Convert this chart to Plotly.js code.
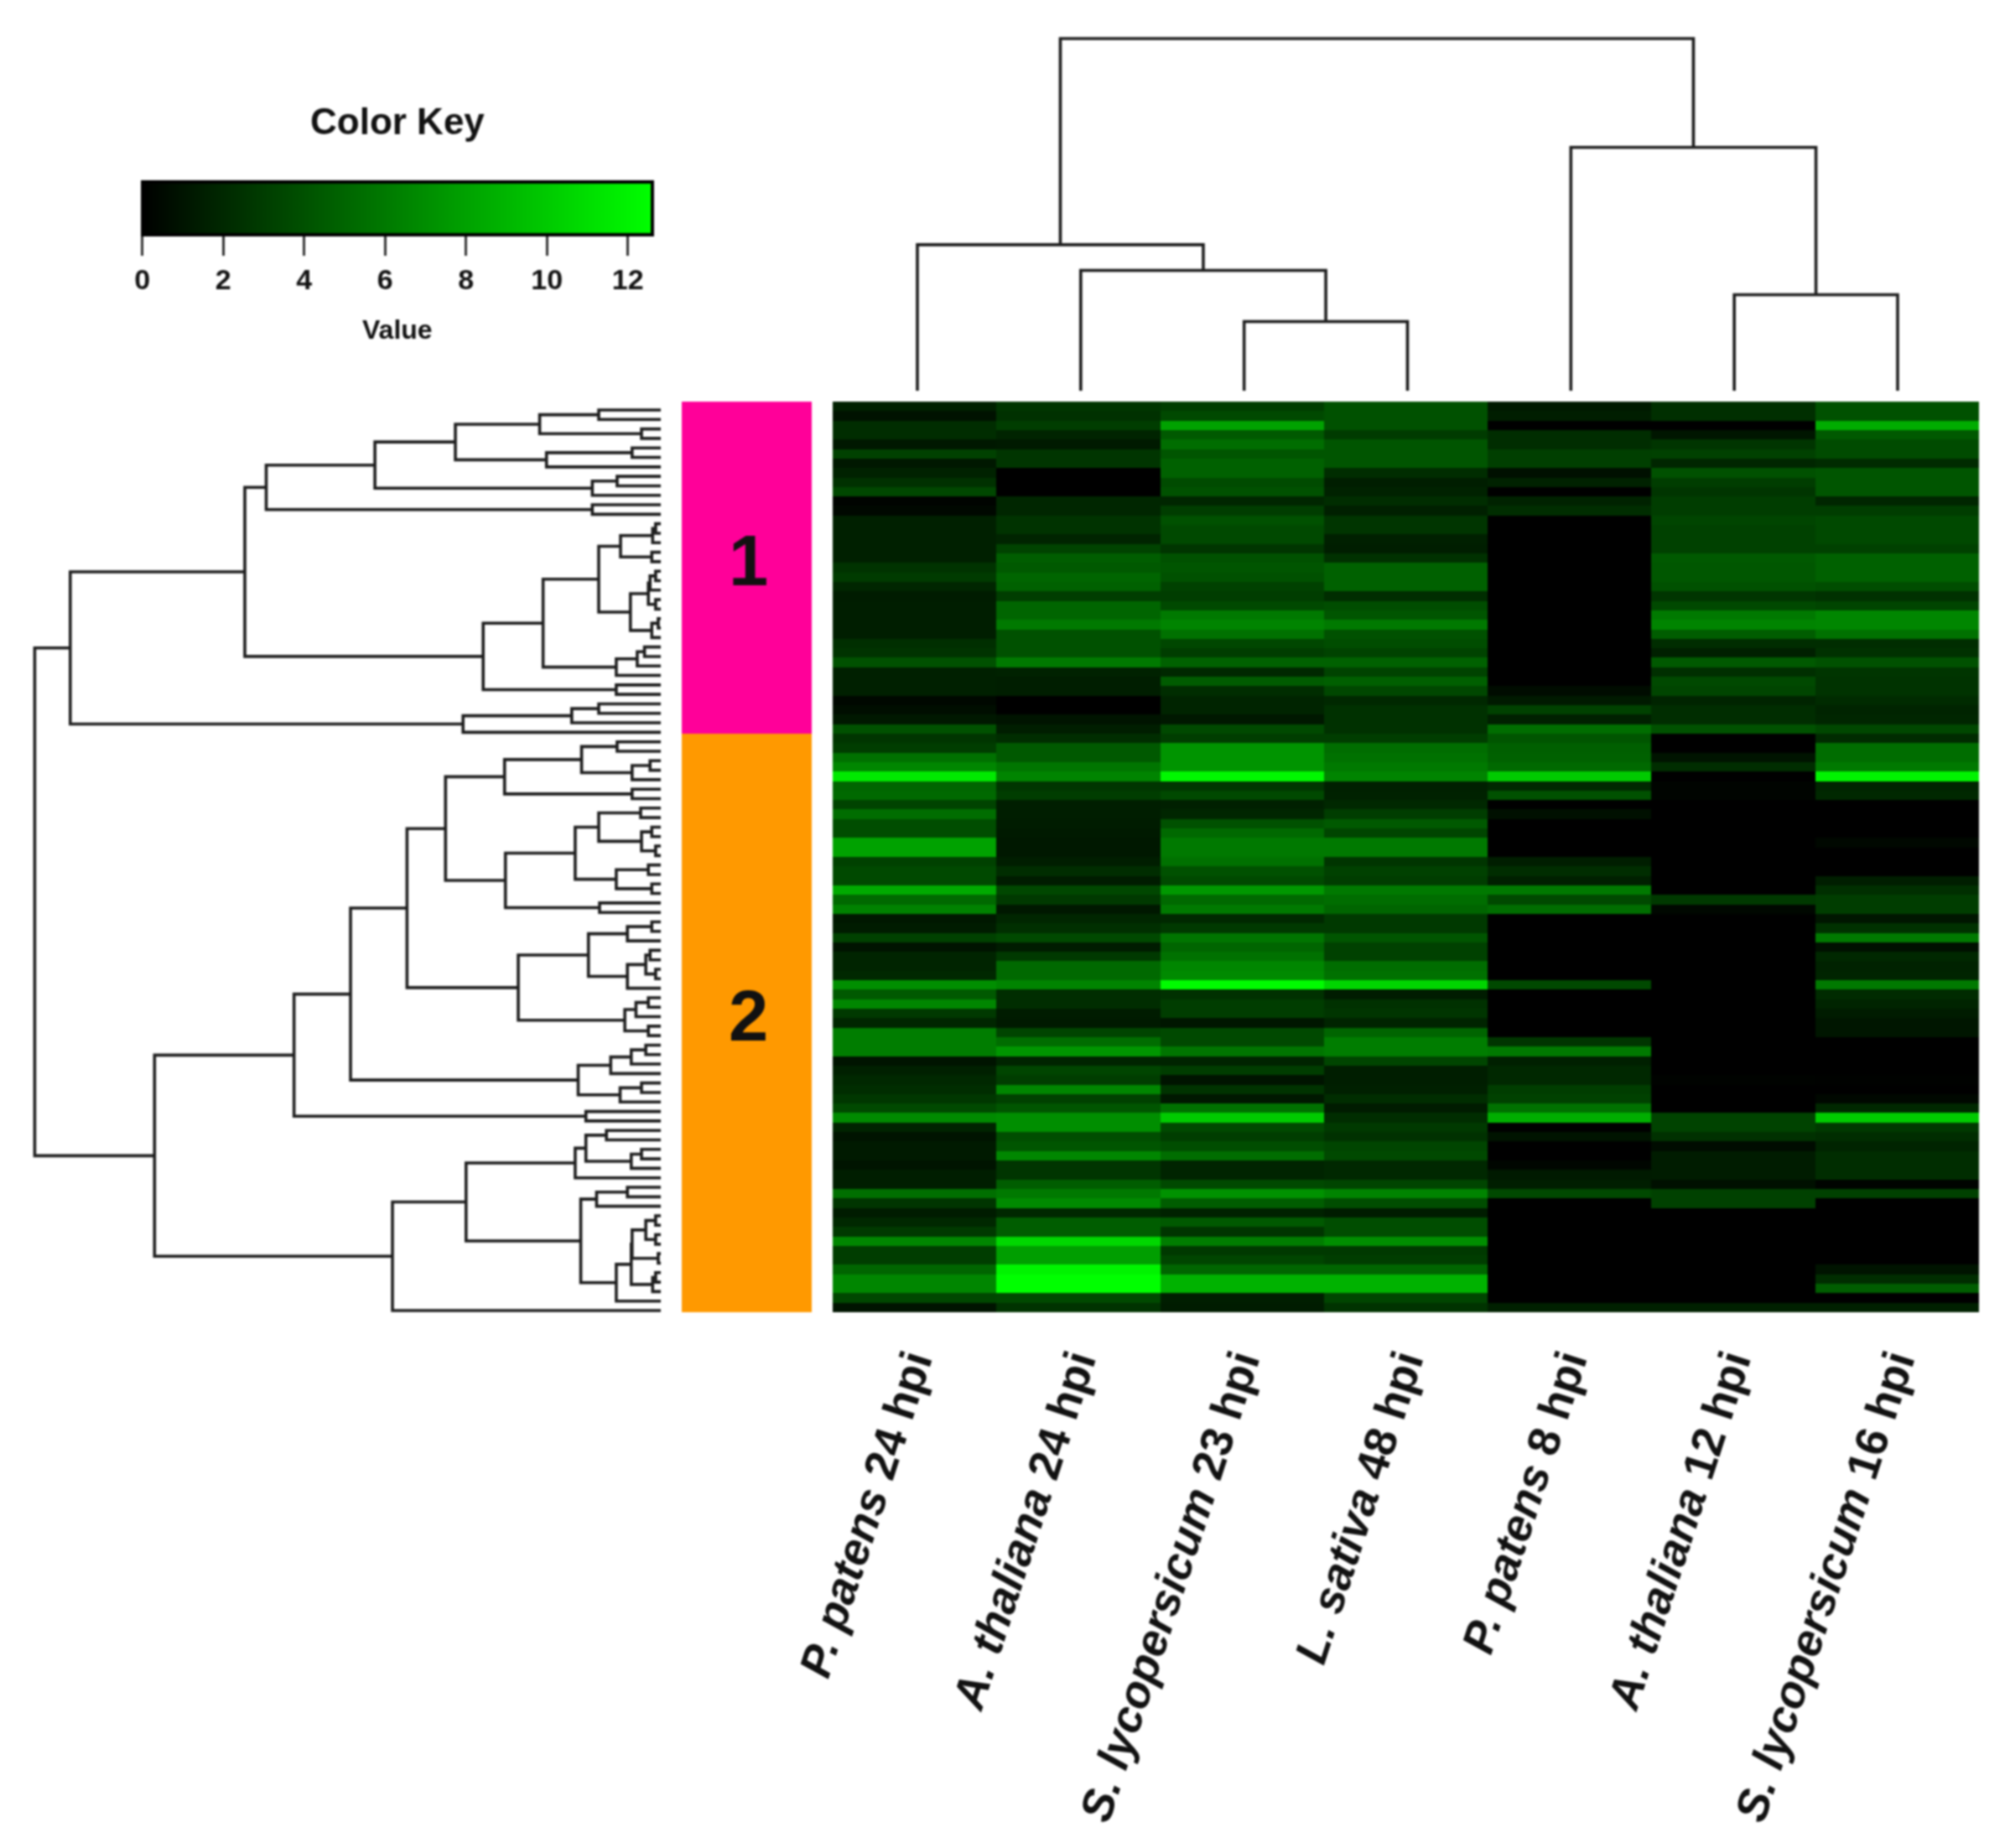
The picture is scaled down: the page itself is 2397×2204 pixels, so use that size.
<!DOCTYPE html>
<html><head><meta charset="utf-8">
<script src="https://cdn.plot.ly/plotly-3.0.1.min.js"></script>
<style>html,body{margin:0;padding:0;background:#fff}#chart{filter:blur(1.1px)}</style></head>
<body><div id="chart" style="width:2397px;height:2204px"></div>
<script>
const columnLabels = ["<i>P. patens</i> 24 hpi","<i>A. thaliana</i> 24 hpi","<i>S. lycopersicum</i> 23 hpi","<i>L. sativa</i> 48 hpi","<i>P. patens</i> 8 hpi","<i>A. thaliana</i> 12 hpi","<i>S. lycopersicum</i> 16 hpi"];
const keyTicks = [0,2,4,6,8,10,12];
const keyMax = 12.6;
const clusterNames = ["1","2"];
const clusterSizes = [35,61];
// one row per gene, one value per column
const heatRows = [
[1.6,2.6,3,4,1.3,2.3,4],[0.9,2.4,3.6,4,1.5,2.3,4],[2.2,3,8,4,0,0,8.5],[2.2,1.8,4.4,2.9,2.2,1.1,4.4],
[1.2,1.3,5.4,4.2,2.2,2.6,3.7],[3.2,2.6,4.2,4.2,3.1,3.2,3.7],[1.2,2.6,4.8,4.2,3.1,1.9,2.1],[1.7,0,4.8,2.2,0.8,4,4.2],
[2.4,0,3.7,1.5,1.7,3,4.2],[3.5,0,4,1.7,0,2.6,4.2],[0.2,1.9,1.9,2.2,1.7,3,1.9],[0.4,1.9,3,1.6,2.2,3,3],
[1.6,2.5,4,2.6,0,3.4,3.6],[1.6,2.5,3.6,2.6,0,3.2,3.6],[1.6,1.8,3.6,1.6,0,3.2,3.6],[1.6,3.3,2.6,1.5,0,3.2,3.2],
[1.6,4.6,4,2.4,0,4.4,4.8],[2.5,4.4,4.2,4.8,0,4.3,4.8],[2.9,5,4,4.8,0,4.3,4.8],[1.9,4.8,3.2,4.8,0,4,3.8],
[1.4,3,3,2.2,0,2.6,2.4],[1.5,5,3.6,3.8,0,3.6,3.4],[1.5,5,6,4.2,0,6,6.6],[1.5,6,6.5,6,0,6.5,6.6],
[1.5,4,5.6,4,0,4.6,5.6],[2.3,4,3.5,3.8,0,2.2,2.2],[2.5,4,3,3.3,0,1.6,2.4],[4,6,4.8,4.8,0,4.4,4],
[1.6,1.7,2,3.3,0,2.3,2.6],[1.6,1.5,4.5,4.7,0,3.6,2.5],[1.6,1.5,2.2,3.5,0.6,3.4,2.5],[0.4,0,1.8,2,1.3,1.8,2.1],
[0.7,0,1.8,2.4,3.2,2.2,1.8],[1.2,1,1.2,2.4,1.6,2.2,1.9],[4,1.5,3.6,2.4,5.4,4,3.5],[2.6,2.2,3,3,4.2,0,2.1],
[3,4.4,7.3,5.4,4.7,0,5.4],[5.6,4.4,7.3,5.6,4.8,1,5.4],[6.6,5.8,7.3,6,5.2,2.2,6],[11.5,6.5,12.2,6.5,10,0,12],
[5,2.6,2.6,1.6,2,0.2,1.8],[5.2,3,3.6,1.7,4,0.2,2],[3.3,1.5,1.6,2,0,0,0],[5.4,1.5,1.9,3,0.8,0,0],
[3.8,1.4,4,4.4,0,0,0],[3.8,1.3,5.2,3.4,0,0,0],[8,1.2,6,6,0,0,0.4],[8,1.2,6,6,0,0,0],
[3.2,1.5,5.6,2.6,1.5,0,0],[3.6,2.2,4,3.2,2.2,0,0],[3.6,1.4,3.6,3,1.6,0,1.5],[8.4,3.5,7.5,6,6,0,2.3],
[5.2,2.8,5.2,5.4,3.6,2.8,3],[6.4,1.2,6,5,5.4,0.4,3],[1.2,1.9,2,2.8,0,0,1.1],[1.4,2.3,2.8,2.8,0,0,2.4],
[3.2,3.6,5.8,4.2,0,0,6],[1,1.4,5,3.2,0,0,0.8],[1.8,2.8,5.6,3.2,0,0,2],[1.8,5.2,6.6,5.4,0,0,1.7],
[2,5.2,6.8,5.6,0,0,1.8],[7,6.5,12.4,10.5,3.6,0,6],[4.4,2.2,2.4,1.4,0,0,2.1],[6.6,2.2,3,2.4,0,0,1.8],
[2.8,1.4,3,2.6,0,0,1.4],[1.9,1.3,1.1,1.8,0,0,1.1],[6.2,3.4,3.6,5,0,0,1.1],[6.2,5.4,3.6,6.2,2.6,0,0],
[6.2,7.4,5.8,6.2,6,0,0],[1,1.8,1.8,3.4,1.6,0,0],[1.6,3.4,3,1.5,2,0,0],[2,3,1,1.5,2,0.15,0.1],
[2.2,6.6,2.5,1.6,3,0,0],[2.7,3.2,1.2,2.2,3.2,0,0.4],[3.6,4.2,5.6,1.4,5.6,0,2],[6.8,7,10,2.2,8.6,3.3,10],
[1.8,7,3.6,2.8,0,3.3,2.8],[1,3.8,3,2.4,1,2.4,2.2],[1.3,4.2,3.8,3.4,0,0.6,1.8],[1.3,6.6,5.4,3.6,0,1.4,2.2],
[1,2.6,1.8,2,0.3,1.4,2.2],[1.5,2.6,1.8,2,1.3,1.4,2.2],[1.5,4.6,3.6,3.4,1.5,0.8,0.2],[5.5,6,7.2,6.5,3.6,3.2,3.2],
[2.6,6.8,4.6,3.8,0,3.2,0],[1.4,2,1.7,1.4,0,0,0],[2,4.6,4.4,3.8,0,0,0],[2.8,4.6,2.6,3.8,0,0,0],
[6.6,10.6,6.2,7,0,0,0],[3,7.8,2.8,2.8,0,0,0],[3,7.8,3.4,3,0,0,0],[5,12,5,5,0,0,1],
[6.6,12.6,8.8,8.8,0,0,2.2],[6.6,12.6,8.8,8.8,0,0,4.6],[3.5,3.6,1.5,3.4,0,0,0],[1,2.5,1.4,2.5,1.6,1.6,1.6]
];
// dendrograms: [merge height, child, child]; a bare number is a leaf index
const clusterOneTree = [1380,
 [972,
  [922,
   [668,[480,[283,[145,0,1],[45,2,3]],[267,[67,4,5],6]],[160,[102,7,8],9]],
   [160,10,11]],
  [415,
   [275,
    [145,[94,[19,[12,12,13],14],[21,15,16]],
         [71,[29,[25,[12,17,18],19],[12,20,21]],[21,[6,22,23],24]]],
    [104,[55,[38,25,26],27],28]],
   [104,29,30]]],
 [462,[208,[145,31,32],33],34]];
const clusterTwoTree = [1183,
 [857,
  [725,
   [593,
    [503,
     [365,[185,[102,35,36],[67,[25,37,38],39]],[67,40,41]],
     [363,[200,[145,[47,42,43],[45,[21,44,45],[12,46,47]]],[104,[29,48,49],[21,50,51]]],[143,52,53]]],
    [333,
     [169,[78,[21,54,55],56],[78,[35,[25,57,58],[12,59,60]],61]],
     [84,[58,[29,62,63],64],[29,65,66]]]],
   [193,[117,[69,[35,67,68],69],70],[95,[45,71,72],73]]],
  [175,74,75]],
 [627,
  [455,
   [200,[175,[127,76,77],[69,[45,78,79],80]],81],
   [187,
    [150,[78,82,83],84],
    [104,[69,[67,[35,[12,85,86],[12,87,88]],[6,89,90]],[19,[12,91,92],93]],94]]],
  95]];
const rowTree = [1463,clusterOneTree,clusterTwoTree];
const columnTree = [275,[114,0,[94,1,[54,2,3]]],[190,4,[75,5,6]]];

// page geometry in px
const W=2397,H=2204;
const fx=p=>p/W, fy=p=>1-p/H;
const heat={l:993,r:2360,t:479,b:1565};
const side={l:813,r:968};
const rowDen={l:41.4,r:788,t:489,b:1563};
const colDen={l:1094,r:2263,t:46,b:466};
const lineStyle={color:'#1c1c1c',width:3.6};
const FONT='"Liberation Sans", Arial, sans-serif';
const PAD=8; // px of room round the trees so edge lines are not clipped
const padded=(a,b,u0,u1)=>{const k=(u1-u0)/(b-a);return {domain:[a-PAD,b+PAD],range:[u0-PAD*k,u1+PAD*k]};};
const rdX=padded(rowDen.l,rowDen.r,1463,0), rdY=padded(rowDen.t,rowDen.b,0,95);
const cdX=padded(colDen.l,colDen.r,0,6), cdY=padded(colDen.t,colDen.b,275,0);

function walk(node,xs,ys){ // returns [position,height]
  if(typeof node==='number') return [node,0];
  const a=walk(node[1],xs,ys), b=walk(node[2],xs,ys);
  xs.push(a[0],a[0],b[0],b[0],null);
  ys.push(a[1],node[0],node[0],b[1],null);
  return [(a[0]+b[0])/2,node[0]];
}
const rp=[],rh=[]; walk(rowTree,rp,rh);
const cp=[],ch=[]; walk(columnTree,cp,ch);

const rowIds=heatRows.map((_,i)=>i);
const clusterZ=[];
clusterSizes.forEach((n,k)=>{for(let i=0;i<n;i++)clusterZ.push([k+1]);});

const traces=[
 {type:'heatmap',z:heatRows,x:columnLabels.map((_,i)=>i),y:rowIds,xaxis:'x',yaxis:'y',zmin:0,zmax:keyMax,
  colorscale:[[0,'#000000'],[1,'#00ff00']],hoverinfo:'skip',
  colorbar:{orientation:'h',xref:'container',yref:'container',x:fx(473.7),xanchor:'center',y:fy(216.7),yanchor:'top',
    lenmode:'pixels',len:608,thicknessmode:'pixels',thickness:63,outlinecolor:'#000',outlinewidth:4,borderwidth:0,xpad:0,ypad:0,
    tickmode:'array',tickvals:keyTicks,ticktext:keyTicks.map(String),ticks:'outside',ticklen:23,tickwidth:3,tickcolor:'#333',
    tickfont:{family:FONT,size:34,color:'#111',weight:'bold'}}},
 {type:'heatmap',z:clusterZ,x:[0],y:rowIds,xaxis:'x4',yaxis:'y4',zmin:1,zmax:2,showscale:false,hoverinfo:'skip',
  colorscale:[[0,'#ff0099'],[0.5,'#ff0099'],[0.5,'#ff9900'],[1,'#ff9900']]},
 {type:'scatter',mode:'lines',x:rh,y:rp,xaxis:'x2',yaxis:'y2',line:lineStyle,hoverinfo:'skip',cliponaxis:false,showlegend:false},
 {type:'scatter',mode:'lines',x:cp,y:ch,xaxis:'x3',yaxis:'y3',line:lineStyle,hoverinfo:'skip',cliponaxis:false,showlegend:false}
];
const hidden={visible:false,fixedrange:true};
const sideMid=[];
let start=0; clusterSizes.forEach(n=>{sideMid.push(start+(n-1)/2);start+=n;});
const layout={
 width:W,height:H,margin:{l:0,r:0,t:0,b:0,autoexpand:false},paper_bgcolor:'#fff',plot_bgcolor:'rgba(0,0,0,0)',showlegend:false,
 font:{family:FONT},
 xaxis:{domain:[fx(heat.l),fx(heat.r)],range:[-0.5,6.5],anchor:'y',tickmode:'array',tickvals:columnLabels.map((_,i)=>i),ticktext:columnLabels,
   tickangle:-72,ticks:'',showgrid:false,zeroline:false,showline:false,ticklabelstandoff:18,ticklabelshift:-4,automargin:false,
   tickfont:{family:FONT,size:54,color:'#111',weight:'bold'}},
 yaxis:{domain:[fy(heat.b),fy(heat.t)],range:[95.5,-0.5],anchor:'x',...hidden},
 xaxis2:{domain:rdX.domain.map(fx),range:rdX.range,anchor:'y2',...hidden},
 yaxis2:{domain:[fy(rdY.domain[1]),fy(rdY.domain[0])],range:[rdY.range[1],rdY.range[0]],anchor:'x2',...hidden},
 xaxis3:{domain:cdX.domain.map(fx),range:cdX.range,anchor:'y3',...hidden},
 yaxis3:{domain:[fy(cdY.domain[1]),fy(cdY.domain[0])],range:[cdY.range[1],cdY.range[0]],anchor:'x3',...hidden},
 xaxis4:{domain:[fx(side.l),fx(side.r)],range:[-0.5,0.5],anchor:'y4',...hidden},
 yaxis4:{domain:[fy(heat.b),fy(heat.t)],range:[95.5,-0.5],anchor:'x4',...hidden},
 annotations:[
  {xref:'paper',yref:'paper',x:fx(474),y:fy(144),text:'Color Key',showarrow:false,xanchor:'center',yanchor:'middle',
   font:{family:FONT,size:44,color:'#111',weight:'bold'}},
  {xref:'paper',yref:'paper',x:fx(474),y:fy(393),text:'Value',showarrow:false,xanchor:'center',yanchor:'middle',
   font:{family:FONT,size:32,color:'#111',weight:'bold'}},
  ...clusterNames.map((t,i)=>({xref:'x4',yref:'y4',x:0.015,y:sideMid[i],yshift:8,text:t,showarrow:false,xanchor:'center',yanchor:'middle',
   font:{family:FONT,size:85,color:'#111',weight:'bold'}}))
 ]
};
Plotly.newPlot('chart',traces,layout,{displayModeBar:false,staticPlot:true});
</script></body></html>
